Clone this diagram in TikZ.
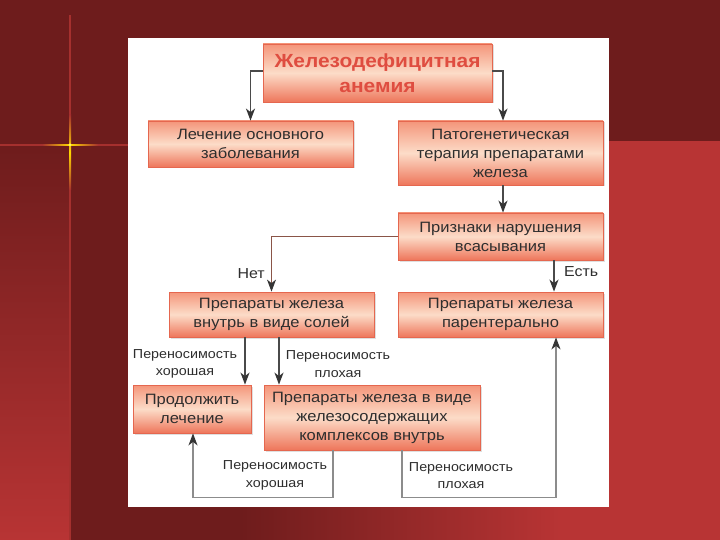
\documentclass[tikz,border=0pt]{standalone}
\usepackage{fontspec}
\setmainfont[FakeStretch=1.1]{Liberation Sans}
\usetikzlibrary{arrows.meta,shadows,calc}
\definecolor{bgdark}{HTML}{6E1C1C}
\definecolor{bglight}{HTML}{B83434}
\definecolor{bgline}{HTML}{A5302E}
\definecolor{boxborder}{HTML}{E5674F}
\definecolor{boxtop}{HTML}{F4957A}
\definecolor{boxmid}{HTML}{FCDCC8}
\definecolor{boxbot}{HTML}{EE765B}
\definecolor{titlered}{HTML}{DF4D40}
\definecolor{txt}{HTML}{2E2E2E}
\definecolor{darkline}{HTML}{4A4A4A}
\definecolor{brownline}{HTML}{8A5548}
\definecolor{loopline}{HTML}{8C8C8C}
\definecolor{tipcol}{HTML}{353535}
\begin{document}
\begin{tikzpicture}[x=1pt,y=-1pt,
  box/.style={draw=boxborder, line width=0.8pt, top color=boxtop, bottom color=boxbot, middle color=boxmid,
    align=center, text=txt, font=\fontsize{15}{19}\selectfont, inner sep=0pt,
    drop shadow={shadow xshift=1.5pt, shadow yshift=-1.5pt, opacity=0.25, fill=gray}},
  titlebox/.style={box, text=titlered, font=\fontsize{19}{25}\selectfont\bfseries},
  lbl/.style={text=txt, font=\fontsize{13}{17.5}\selectfont, align=center, inner sep=0pt},
  yn/.style={text=txt, font=\fontsize{14.5}{18}\selectfont, inner sep=0pt},
  tip/.style={-{Stealth[length=12pt,width=9pt,inset=3.5pt,color=tipcol]}},
  arr/.style={tip, draw=darkline, line width=1.5pt},
  arrthin/.style={tip, draw=brownline, line width=1pt},
  arrloop/.style={tip, draw=loopline, line width=1.3pt}
]
\useasboundingbox (0,0) rectangle (720,540);
% background
\fill[bgdark] (0,0) rectangle (720,540);
\shade[top color=bgdark, bottom color=bglight] (0,145) rectangle (70,540);
\fill[bglight] (560,141) rectangle (720,540);
\shade[left color=bgdark, right color=bglight] (240,141) rectangle (560,540);
\draw[bgline, line width=1.5pt] (70,15) -- (70,540);
\draw[bgline, line width=1.5pt] (0,145) -- (128,145);
\shade[left color=bgline, right color=bgline, middle color=yellow!70!orange] (42,144.2) rectangle (98,146);
\shade[top color=bgline, bottom color=bgline, middle color=yellow!70!orange] (69.2,115) rectangle (71,190);
\fill[yellow!60!white] (70,145) circle (1.5pt);
% panel
\fill[white] (128,38) rectangle (609,507);
% nodes
\node[titlebox, minimum width=229pt, minimum height=58pt] (t) at (377.5,73) {Железодефицитная\\анемия};
\node[box, minimum width=205pt, minimum height=46pt] (b2) at (250.5,144) {Лечение основного\\заболевания};
\node[box, minimum width=205pt, minimum height=64pt] (b3) at (500.5,153) {Патогенетическая\\терапия препаратами\\железа};
\node[box, minimum width=205pt, minimum height=47pt] (b4) at (500.5,236.5) {Признаки нарушения\\всасывания};
\node[box, minimum width=205pt, minimum height=45pt] (b5) at (271.5,314.5) {Препараты железа\\внутрь в виде солей};
\node[box, minimum width=205pt, minimum height=45pt] (b6) at (500.5,314.5) {Препараты железа\\парентерально};
\node[box, minimum width=118pt, minimum height=48pt] (b7) at (192,409) {Продолжить\\лечение};
\node[box, minimum width=216pt, minimum height=65pt] (b8) at (372,417.5) {Препараты железа в виде\\железосодержащих\\комплексов внутрь};
% labels
\node[yn, anchor=east] (nnet) at (265,274) {Нет};
\node[yn, anchor=west] (nest) at (564,272) {Есть};
\node[lbl] (l1) at (185,364) {Переносимость\\хорошая};
\node[lbl] (l2) at (338,364) {Переносимость\\плохая};
\node[lbl] (l3) at (275,475.5) {Переносимость\\хорошая};
\node[lbl] (l4) at (461,475.5) {Переносимость\\плохая};
% connectors
\draw[arr] ([yshift=2pt]t.west) -| (b2.north);
\draw[arr] ([yshift=2pt]t.east) -| ([xshift=2.5pt]b3.north);
\draw[arr] ([xshift=2.5pt]b3.south) -- ([xshift=2.5pt]b4.north);
\draw[arrthin] (b4.west) -| (b5.north);
\draw[arr] ([xshift=53.5pt]b4.south) -- ([xshift=53.5pt]b6.north);
\draw[arr] ([xshift=-26.5pt]b5.south) -- ([xshift=-26.5pt]b5.south |- b7.north);
\draw[arr] ([xshift=7.5pt]b5.south) -- ([xshift=7.5pt]b5.south |- b8.north);
\draw[arrloop] ([xshift=-39pt]b8.south) -- ++(0,47) -| ([xshift=1pt]b7.south);
\draw[arrloop] ([xshift=30pt]b8.south) -- ++(0,47) -| ([xshift=55.5pt]b6.south);
\end{tikzpicture}
\end{document}
